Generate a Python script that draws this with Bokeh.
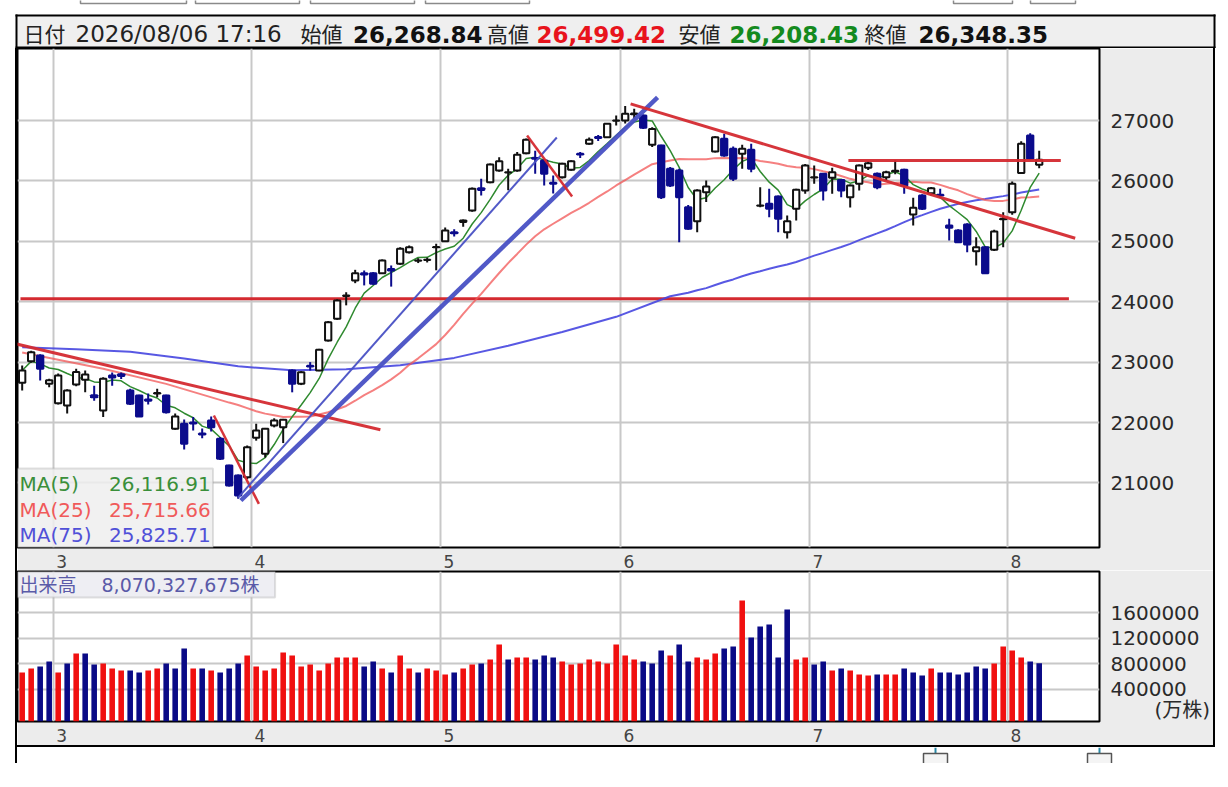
import pandas as pd
from bokeh.plotting import figure
from bokeh.models import Range1d, FixedTicker, Label, BoxAnnotation, Spacer, BasicTickFormatter
from bokeh.layouts import column, row
from bokeh.embed import file_html
from bokeh.resources import INLINE

JP = "Noto Sans CJK JP"
NUM = "DejaVu Sans"
MIX = "'DejaVu Sans', 'Noto Sans CJK JP'"

# ---------------- data ----------------
month_start = [4, 26, 47, 67, 88, 110]          # bar index of first trading day
month_label = ["3", "4", "5", "6", "7", "8"]
price_ticks = [21000, 22000, 23000, 24000, 25000, 26000, 27000]
vol_ticks = [400000, 800000, 1200000, 1600000]
vol_unit_pos = 72000
vol_unit_text = "(万株)"

opens = [22657, 23016, 23109, 22640, 22320, 22281, 22629, 22707, 22450, 22199,
         22780, 22800, 22530, 22447, 22380, 22480, 22447, 21896, 21979, 22000,
         21820, 22033, 21731, 21288, 21122, 21094, 21747, 21482, 21950, 21922,
         22861, 22640, 22940, 22861, 23358, 23717, 24095, 24351, 24470, 24472,
         24472, 24540, 24627, 24820, 24680, 24690, 24900, 25002, 25150, 25320,
         25510, 25880, 25979, 26172, 26140, 26172, 26459, 26380, 26338, 25970,
         26062, 26184, 26450, 26614, 26725, 26724, 26995, 27000, 27105, 27083,
         26597, 26586, 26200, 26172, 25565, 25333, 25813, 26487, 26697, 26531,
         26448, 26515, 25590, 25620, 25741, 25151, 25538, 25841, 26055, 26117,
         26052, 26017, 25730, 25952, 26217, 26117, 26062, 26160, 26184, 25444,
         25758, 25797, 25770, 25262, 25179, 25278, 24836, 24903, 24860, 25365,
         25483, 26129, 26752, 26268.84]
highs = [22944, 23190, 23130, 22724, 22810, 22550, 22890, 22860, 22610, 22750,
         22830, 22830, 22560, 22460, 22480, 22560, 22460, 22150, 22050, 22090,
         21900, 22100, 21760, 21300, 21140, 21620, 21980, 21910, 22070, 22060,
         22880, 22850, 23000, 23220, 23680, 24040, 24157, 24528, 24517, 24490,
         24700, 24600, 24900, 24930, 24720, 24730, 24960, 25230, 25200, 25360,
         25890, 26035, 26290, 26393, 26200, 26480, 26700, 26500, 26360, 26090,
         26300, 26340, 26480, 26720, 26760, 26960, 27083, 27240, 27194, 27100,
         26890, 26600, 26230, 26200, 25600, 25860, 26007, 26740, 26779, 26570,
         26600, 26614, 25896, 25869, 25760, 25427, 25870, 26280, 26255, 26130,
         26217, 26030, 25940, 26270, 26320, 26140, 26170, 26340, 26200, 25720,
         25780, 25900, 25869, 25372, 25200, 25300, 25069, 24920, 25190, 25483,
         25990, 26657, 26790, 26499.42]
lows = [22530, 22990, 22695, 22585, 22300, 22149, 22600, 22500, 22360, 22090,
        22610, 22720, 22290, 22090, 22300, 22420, 22150, 21880, 21553, 21870,
        21740, 21850, 21380, 20940, 20737, 21060, 21700, 21420, 21920, 21660,
        22500, 22620, 22861, 22850, 23340, 23700, 23940, 24307, 24270, 24280,
        24460, 24250, 24610, 24800, 24640, 24650, 24520, 24990, 25080, 25240,
        25490, 25760, 25960, 26150, 25845, 26150, 26440, 26120, 25924, 25790,
        26040, 26170, 26380, 26600, 26660, 26710, 26917, 26950, 27030, 26860,
        26560, 25700, 25900, 24985, 25190, 25151, 25650, 26470, 26400, 26000,
        26200, 26145, 25565, 25400, 25151, 25046, 25344, 25787, 25952, 25675,
        25787, 25730, 25560, 25841, 26180, 25860, 26007, 26110, 25787, 25262,
        25520, 25760, 25720, 25013, 24970, 24820, 24600, 24460, 24840, 24903,
        25440, 26120, 26340, 26208.43]
closes = [22861, 23164, 22889, 22700, 22778, 22530, 22838, 22795, 22420, 22724,
          22745, 22770, 22310, 22100, 22360, 22490, 22171, 22100, 21649, 21983,
          21800, 21922, 21400, 20957, 20791, 21590, 21868, 21896, 22033, 22045,
          22640, 22833, 22927, 23204, 23662, 24020, 24103, 24472, 24450, 24297,
          24682, 24517, 24876, 24903, 24682, 24695, 24905, 25179, 25135, 25344,
          25869, 25850, 26271, 26326, 26145, 26432, 26680, 26366, 26118, 25952,
          26283, 26326, 26437, 26680, 26710, 26945, 27000, 27110, 27115, 26880,
          26860, 25730, 25924, 25730, 25207, 25841, 25907, 26724, 26420, 26035,
          26531, 26200, 25593, 25538, 25372, 25333, 25852, 26255, 26062, 25841,
          26145, 25841, 25924, 26255, 26294, 25896, 26145, 26170, 25924, 25555,
          25538, 25880, 25758, 25224, 24985, 24947, 24903, 24472, 25162, 25372,
          25952, 26614, 26366, 26348.35]
volumes = [665000, 727000, 759000, 837000, 665000, 805000, 961000, 961000, 790000, 805000,
           727000, 696000, 696000, 665000, 696000, 727000, 805000, 727000, 1039000, 727000,
           727000, 696000, 665000, 727000, 805000, 930000, 759000, 696000, 727000, 977000,
           930000, 759000, 790000, 696000, 805000, 899000, 899000, 899000, 759000, 837000,
           727000, 665000, 930000, 727000, 665000, 727000, 696000, 634000, 665000, 727000,
           790000, 805000, 868000, 1102000, 868000, 899000, 899000, 868000, 930000, 899000,
           837000, 790000, 805000, 868000, 837000, 805000, 1102000, 930000, 868000, 837000,
           805000, 1008000, 930000, 1102000, 837000, 899000, 868000, 961000, 1039000, 1071000,
           1788000, 1211000, 1382000, 1414000, 899000, 1648000, 868000, 899000, 790000, 837000,
           696000, 727000, 696000, 634000, 618000, 634000, 634000, 634000, 727000, 665000,
           618000, 727000, 665000, 665000, 634000, 665000, 759000, 727000, 805000, 1071000,
           1008000, 899000, 837000, 807033]

ma25_head_idx = [0, 4, 9, 16, 23]
ma25_head_val = [23160, 23040, 22890, 22640, 22330]
ma75_head_idx = [0, 6, 12, 18, 24, 30, 36, 42, 48, 54, 60, 66, 72]
ma75_head_val = [23247, 23215, 23170, 23060, 22930, 22865, 22880, 22950, 23070, 23270, 23500, 23750, 24090]

# drawn trend lines: (bar index, price) end points
tl_x0 = [-0.74, 21.3, 24.0, 24.3, 56.1, 67.6, 91.8, -0.19]
tl_y0 = [23303, 22116, 20758, 20709, 26752, 27276, 26338, 24048]
tl_x1 = [39.8, 26.3, 59.4, 70.6, 61.1, 117.0, 115.4, 116.3]
tl_y1 = [21880, 20654, 26719, 27381, 25742, 25051, 26338, 24048]

header_date = "2026/08/06 17:16"
header_fields = [("始値", "26,268.84"), ("高値", "26,499.42"), ("安値", "26,208.43"), ("終値", "26,348.35")]
ma_legend = [("MA(5)", "26,116.91"), ("MA(25)", "25,715.66"), ("MA(75)", "25,825.71")]
vol_total_text = "出来高\u3000 8,070,327,675株"

# ---------------- derived ----------------
n = len(closes)
idx = list(range(n))
up = [c >= o for o, c in zip(opens, closes)]
prev_close = [opens[0]] + closes[:-1]
vol_up = [c >= pc for c, pc in zip(closes, prev_close)]

s = pd.Series(closes, dtype=float)
ma5 = s.rolling(5, min_periods=1).mean().tolist()
ma25_calc = s.rolling(25).mean().tolist()
ma75_calc = s.rolling(75).mean().tolist()
ma25_x = ma25_head_idx + idx[24:]
ma25_y = ma25_head_val + ma25_calc[24:]
ma75_x = ma75_head_idx + idx[74:]
ma75_y = ma75_head_val + ma75_calc[74:]

NAVY = "#0b0b8c"
UP_LINE = "#111111"
RED_TL = "#d42a30"
BLUE_TL = "#4850c4"
GRID = "#c8c8c8"
PANEL = "#ececec"

W = 1196          # inner width: x 17 .. 1213
RIGHT = 114       # right axis panel
xr = Range1d(-0.52, 119.7)

def style_axes(fig, yticks):
    fig.yaxis.ticker = FixedTicker(ticks=yticks)
    fig.yaxis.formatter = BasicTickFormatter(use_scientific=False)
    fig.xaxis.ticker = FixedTicker(ticks=[m + 0.4 for m in month_start])
    fig.xaxis.major_label_overrides = {m + 0.4: lab for m, lab in zip(month_start, month_label)}
    for ax in (fig.xaxis, fig.yaxis):
        ax.axis_line_color = None
        ax.major_tick_line_color = None
        ax.minor_tick_line_color = None
        ax.major_label_text_font = NUM
        ax.major_label_text_color = "#2a2a2a"
    fig.yaxis.major_label_text_font_size = "20px"
    fig.yaxis.major_label_standoff = 5
    fig.xaxis.major_label_text_font_size = "17px"
    fig.xaxis.major_label_text_color = "#444444"
    fig.xaxis.major_label_standoff = 1
    fig.xgrid.ticker = FixedTicker(ticks=[m - 0.5 for m in month_start])
    fig.ygrid.ticker = FixedTicker(ticks=yticks)
    for g in (fig.xgrid, fig.ygrid):
        g.grid_line_color = GRID
        g.grid_line_width = 2

def blank(fig):
    fig.axis.visible = False
    fig.grid.visible = False

# ---------------- header band (toolbar edges + quote line), pixel coordinates ----------------
HH = 48
top = figure(width=1228, height=HH, x_range=Range1d(0, 1228), y_range=Range1d(HH, 0),
             toolbar_location=None, output_backend="svg", min_border=0,
             outline_line_color=None, background_fill_color="white", border_fill_color="white")
blank(top)
top.quad(left=[80, 195, 310, 425, 953, 1030], right=[186, 299, 414, 529, 1012, 1075],
         top=[-20] * 6, bottom=[3] * 6, fill_color=None, line_color="#8a8a8a", line_width=1.5)
top.quad(left=[17], right=[1213], top=[16], bottom=[HH], fill_color="#efefef", line_color=None)
top.quad(left=[15, 15, 1213, 15], right=[1215, 17, 1215, 1215], top=[14, 14, 14, 46],
         bottom=[16, HH, HH, HH], fill_color="black", line_color=None)
name_x = [300, 486.5, 678, 864]
val_x = [352.5, 536, 729, 918]
val_col = ["#111111", "#e8141c", "#148a1e", "#111111"]
top.add_layout(Label(x=23, y=32.5, text="日付", text_color="#222222", text_font=JP,
                     text_font_size="21px", text_baseline="middle"))
top.add_layout(Label(x=75, y=33.5, text=header_date, text_color="#222222", text_font=NUM,
                     text_font_size="23px", text_baseline="middle"))
for (nm, vl), nx, vx, vc in zip(header_fields, name_x, val_x, val_col):
    top.add_layout(Label(x=nx, y=32.5, text=nm, text_color="#222222", text_font=JP,
                         text_font_size="21px", text_baseline="middle"))
    top.add_layout(Label(x=vx, y=33.5, text=vl, text_color=vc, text_font=NUM,
                         text_font_size="23px", text_font_style="bold", text_baseline="middle"))

# ---------------- price chart ----------------
p = figure(width=W, height=522, x_range=xr, y_range=Range1d(19931, 28192),
           toolbar_location=None, output_backend="svg",
           min_border_left=0, min_border_right=RIGHT, min_border_top=0, min_border_bottom=23,
           background_fill_color="white", border_fill_color=PANEL,
           outline_line_color="black", outline_line_width=2, y_axis_location="right")
style_axes(p, price_ticks)

p.segment(x0=[tl_x0[7]], y0=[tl_y0[7]], x1=[tl_x1[7]], y1=[tl_y1[7]], line_color=RED_TL, line_width=3)

p.line(ma75_x, ma75_y, line_color="#4646e0", line_width=2, line_alpha=0.9)
p.line(ma25_x, ma25_y, line_color="#f25555", line_width=2, line_alpha=0.75)
p.line(idx, ma5, line_color="#2f8a2f", line_width=1.5)

wick_col = [UP_LINE if u else NAVY for u in up]
p.segment(x0=idx, y0=lows, x1=idx, y1=highs, line_color=wick_col, line_width=2)
tops = [max(o, c) for o, c in zip(opens, closes)]
bots = [min(o, c) for o, c in zip(opens, closes)]
p.vbar(x=idx, top=tops, bottom=bots, width=0.7,
       fill_color=["white" if u else NAVY for u in up],
       line_color=wick_col, line_width=2)

tl_colors = [RED_TL, RED_TL, BLUE_TL, BLUE_TL, RED_TL, RED_TL, RED_TL]
tl_widths = [3, 2.5, 2, 4.5, 2.5, 3, 3]
for k in range(7):
    p.segment(x0=[tl_x0[k]], y0=[tl_y0[k]], x1=[tl_x1[k]], y1=[tl_y1[k]],
              line_color=tl_colors[k], line_width=tl_widths[k], line_alpha=0.95)

p.add_layout(BoxAnnotation(left=-0.52, right=21.2, bottom=19931, top=21240,
                           fill_color="#efefef", fill_alpha=0.85,
                           line_color="#9a9a9a", line_width=2))
leg_cols = ["#3a8f3a", "#f05a5a", "#5050d8"]
for k, (name, val) in enumerate(ma_legend):
    yy = 20990 - k * 430
    p.add_layout(Label(x=-0.3, y=yy, text=name, text_color=leg_cols[k], text_font=NUM,
                       text_font_size="20px", text_baseline="middle"))
    p.add_layout(Label(x=20.95, y=yy, text=val, text_color=leg_cols[k], text_font=NUM,
                       text_font_size="20px", text_baseline="middle", text_align="right"))

# ---------------- volume chart ----------------
v = figure(width=W, height=175, x_range=xr, y_range=Range1d(-100000, 2240000),
           toolbar_location=None, output_backend="svg",
           min_border_left=0, min_border_right=RIGHT, min_border_top=1, min_border_bottom=24,
           background_fill_color="white", border_fill_color=PANEL,
           outline_line_color="black", outline_line_width=2, y_axis_location="right")
style_axes(v, vol_ticks)
# unit caption shown as an extra label on the right axis (pushed right with spaces)
v.yaxis.ticker = FixedTicker(ticks=vol_ticks + [vol_unit_pos])
v.yaxis.major_label_overrides = {vol_unit_pos: "\u3000\u3000\u2009" + vol_unit_text}
v.ygrid.ticker = FixedTicker(ticks=vol_ticks)
v.yaxis.major_label_text_font = MIX

v.vbar(x=idx, top=volumes, bottom=-100000, width=0.62,
       fill_color=["#f01010" if u else "#0a0a86" for u in vol_up], line_color=None)
v.add_layout(BoxAnnotation(left=-0.52, right=28.1, bottom=1834000, top=2240000,
                           fill_color="#ececf2", fill_alpha=0.9,
                           line_color="#9a9a9a", line_width=2))
v.add_layout(Label(x=-0.3, y=2035000, text=vol_total_text, text_color="#5a5aa8",
                   text_font=MIX, text_font_size="19px", text_baseline="middle"))

# ---------------- bottom strip (scroll handles) ----------------
bot = figure(width=W, height=16, x_range=Range1d(17, 17 + W), y_range=Range1d(763, 747),
             toolbar_location=None, output_backend="svg", min_border=0,
             outline_line_color=None, background_fill_color="white", border_fill_color="white")
blank(bot)
bot.segment(x0=[935, 1099], y0=[747, 747], x1=[935, 1099], y1=[753, 753],
            line_color="#2a8aa8", line_width=2)
bot.quad(left=[923, 1087], right=[947, 1111], top=[753, 753], bottom=[766, 766],
         fill_color="#f4f4f4", line_color="#555555", line_width=1.5)

# ---------------- frame lines / layout ----------------
H = 522 + 175 + 2
def bar(w, hgt):
    return Spacer(width=w, height=hgt, styles={"background-color": "black"})

inner = column(p, v, bar(W, 2))
layout = column(top,
                row(Spacer(width=15, height=H), bar(2, H), inner, bar(2, H)),
                row(Spacer(width=15, height=16), bar(2, 16), bot))

open("out.html", "w").write(file_html(layout, INLINE))
